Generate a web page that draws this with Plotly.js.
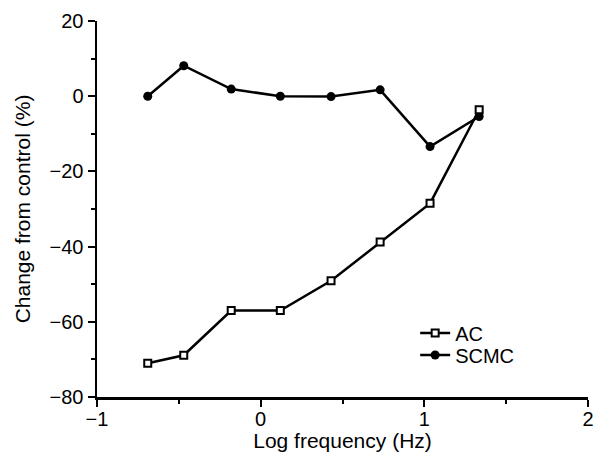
<!DOCTYPE html>
<html>
<head>
<meta charset="utf-8">
<script src="https://cdn.plot.ly/plotly-3.0.1.min.js"></script>
<style>html,body{margin:0;padding:0;background:#fff;}#chart{width:594px;height:452px;}</style>
</head>
<body>
<div id="chart"></div>
<script>
const logFreq = [-0.69, -0.47, -0.18, 0.12, 0.43, 0.73, 1.035, 1.335];
const acValues = [-71.0, -68.9, -57.0, -57.0, -49.1, -38.8, -28.5, -3.6];
const scmcValues = [0.0, 8.1, 1.9, 0.0, -0.1, 1.7, -13.4, -5.4];
const seriesNames = ["AC", "SCMC"];
const xTickVals = [-1, 0, 1, 2];
const yTickVals = [-80, -60, -40, -20, 0, 20];

const fontFam = '"Liberation Sans", Arial, Helvetica, sans-serif';

const traces = [
  {
    x: logFreq, y: scmcValues, name: seriesNames[1], mode: 'lines+markers',
    type: 'scatter', legend: 'legend2',
    line: {color: '#000', width: 2.5},
    marker: {symbol: 'circle', size: 9, color: '#000'}
  },
  {
    x: logFreq, y: acValues, name: seriesNames[0], mode: 'lines+markers',
    type: 'scatter', legend: 'legend',
    line: {color: '#000', width: 2.5},
    marker: {symbol: 'square', size: 7, color: '#fff', line: {color: '#000', width: 2}}
  }
];

const legendBase = {
  xanchor: 'left', yanchor: 'middle',
  bgcolor: 'rgba(0,0,0,0)', font: {size: 20, family: fontFam, color: '#000'},
  itemwidth: 30
};

const layout = {
  width: 594, height: 452,
  margin: {l: 97, r: 6, t: 21, b: 55},
  paper_bgcolor: '#fff', plot_bgcolor: '#fff',
  font: {family: fontFam, size: 20, color: '#000'},
  showlegend: true,
  legend: Object.assign({}, legendBase, {x: 0.648, y: (397 - 333) / 376}),
  legend2: Object.assign({}, legendBase, {x: 0.648, y: (397 - 355) / 376}),
  xaxis: {
    range: [-1, 2], tickvals: xTickVals,
    showgrid: false, zeroline: false,
    showline: true, linecolor: '#000', linewidth: 2.5,
    ticks: 'outside', ticklen: 7, tickwidth: 2, tickcolor: '#000',
    tickfont: {size: 20}, ticklabelstandoff: -5,
    minor: {dtick: 0.5, tick0: 0, ticks: 'outside', ticklen: 4, tickwidth: 2, tickcolor: '#000', showgrid: false},
    title: {text: 'Log frequency (Hz)', standoff: 0, font: {size: 21}},
    fixedrange: true
  },
  yaxis: {
    range: [-80, 20], tickvals: yTickVals,
    showgrid: false, zeroline: false,
    showline: true, linecolor: '#000', linewidth: 2.5,
    ticks: 'outside', ticklen: 7, tickwidth: 2, tickcolor: '#000',
    tickfont: {size: 20},
    minor: {dtick: 10, tick0: 0, ticks: 'outside', ticklen: 4, tickwidth: 2, tickcolor: '#000', showgrid: false},
    title: {text: 'Change from control (%)', standoff: 13, font: {size: 21}},
    fixedrange: true
  }
};

Plotly.newPlot('chart', traces, layout, {displayModeBar: false, staticPlot: true});
</script>
</body>
</html>
